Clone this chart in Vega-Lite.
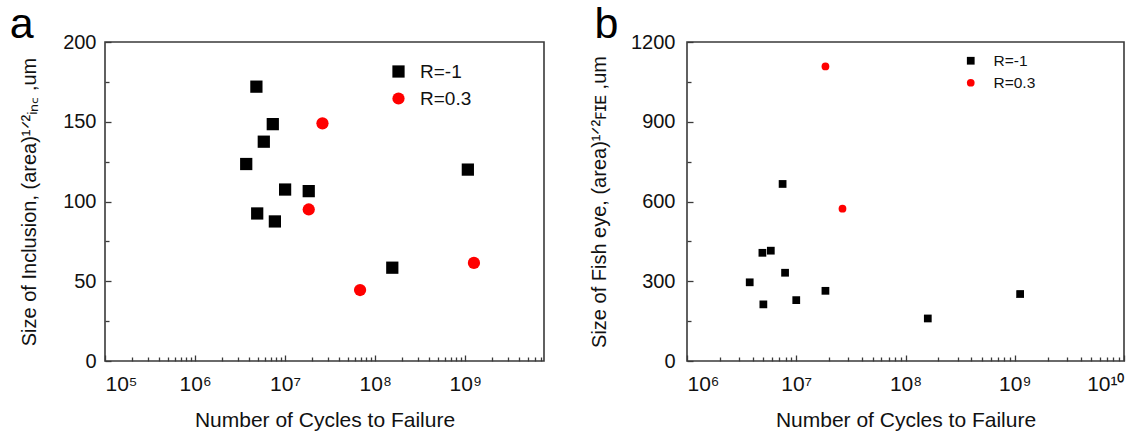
{
  "$schema": "https://vega.github.io/schema/vega-lite/v6.json",
  "background": "white",
  "padding": {"left": 8, "top": 3, "right": 0, "bottom": 0},
  "spacing": 43,
  "config": {
    "font": "Liberation Sans",
    "view": {"stroke": "#3a3a3a", "strokeWidth": 1.6},
    "axis": {
      "grid": false,
      "domain": false,
      "labelFont": "Liberation Sans",
      "labelFontSize": 20,
      "labelColor": "#111111",
      "titleFont": "Liberation Sans",
      "titleFontSize": 20,
      "titleFontWeight": "normal",
      "titleColor": "#111111",
      "tickColor": "#3a3a3a",
      "tickWidth": 1.3
    },
    "legend": {"labelFont": "Liberation Sans", "labelColor": "#111111"},
    "title": {"font": "Liberation Sans", "fontWeight": "normal", "color": "#000000", "anchor": "start", "frame": "bounds", "baseline": "alphabetic"}
  },
  "datasets": {
    "inc": [
      {"cycles": 4800000, "size": 172, "R": "R=-1"},
      {"cycles": 7300000, "size": 148.5, "R": "R=-1"},
      {"cycles": 5800000, "size": 137.5, "R": "R=-1"},
      {"cycles": 3700000, "size": 123.5, "R": "R=-1"},
      {"cycles": 10000000, "size": 107.5, "R": "R=-1"},
      {"cycles": 18300000, "size": 106.5, "R": "R=-1"},
      {"cycles": 4900000, "size": 92.5, "R": "R=-1"},
      {"cycles": 7700000, "size": 87.5, "R": "R=-1"},
      {"cycles": 155000000, "size": 58.5, "R": "R=-1"},
      {"cycles": 1070000000, "size": 120, "R": "R=-1"},
      {"cycles": 26000000, "size": 149, "R": "R=0.3"},
      {"cycles": 18300000, "size": 95, "R": "R=0.3"},
      {"cycles": 68000000, "size": 44.5, "R": "R=0.3"},
      {"cycles": 1250000000, "size": 61.5, "R": "R=0.3"}
    ],
    "fish": [
      {"cycles": 7500000, "size": 666, "R": "R=-1"},
      {"cycles": 5850000, "size": 415, "R": "R=-1"},
      {"cycles": 4900000, "size": 407, "R": "R=-1"},
      {"cycles": 7900000, "size": 332, "R": "R=-1"},
      {"cycles": 3750000, "size": 296, "R": "R=-1"},
      {"cycles": 5000000, "size": 213, "R": "R=-1"},
      {"cycles": 10000000, "size": 229, "R": "R=-1"},
      {"cycles": 18500000, "size": 264, "R": "R=-1"},
      {"cycles": 160000000, "size": 160, "R": "R=-1"},
      {"cycles": 1120000000, "size": 252, "R": "R=-1"},
      {"cycles": 18500000, "size": 1108, "R": "R=0.3"},
      {"cycles": 26500000, "size": 573, "R": "R=0.3"}
    ]
  },
  "hconcat": [
    {
      "width": 439,
      "height": 319,
      "title": {"text": "a", "fontSize": 43, "offset": -15, "dx": -10},
      "data": {"name": "inc"},
      "layer": [
        {
          "mark": {"type": "point", "filled": true, "opacity": 1, "size": 150},
          "encoding": {
            "x": {
              "field": "cycles", "type": "quantitative",
              "scale": {"type": "log", "domain": [100000, 7500000000], "nice": false},
              "axis": {
                "orient": "bottom",
                "values": [100000, 1000000, 10000000, 100000000, 1000000000],
                "offset": -6,
                "tickSize": 6,
                "labelPadding": 12,
                "labelFontSize": 21,
                "labelExpr": "'10' + ['⁰','¹','²','³','⁴','⁵','⁶','⁷','⁸','⁹','¹⁰'][round(log(datum.value)/LN10)]",
                "title": "Number of Cycles to Failure",
                "titleFontSize": 21,
                "titlePadding": 15
              }
            },
            "y": {
              "field": "size", "type": "quantitative",
              "scale": {"domain": [0, 200], "nice": false},
              "axis": {
                "orient": "left",
                "values": [0, 50, 100, 150, 200],
                "offset": -6,
                "tickSize": 6,
                "labelPadding": 9,
                "format": "d",
                "title": "Size of Inclusion, (area)¹ᐟ²ᵢₙ꜀ ,um",
                "titlePadding": 23
              }
            },
            "color": {
              "field": "R", "type": "nominal",
              "scale": {"domain": ["R=-1", "R=0.3"], "range": ["#000000", "#ff0000"]},
              "legend": {"title": null, "orient": "none", "legendX": 284, "legendY": 20, "labelFontSize": 19, "symbolSize": 150, "rowPadding": 7, "labelOffset": 12}
            },
            "shape": {
              "field": "R", "type": "nominal",
              "scale": {"domain": ["R=-1", "R=0.3"], "range": ["square", "circle"]},
              "legend": {"title": null, "orient": "none", "legendX": 284, "legendY": 20, "labelFontSize": 19, "symbolSize": 150, "rowPadding": 7, "labelOffset": 12}
            }
          }
        },
        {
          "mark": {"type": "point", "opacity": 0},
          "encoding": {
            "x": {
              "field": "cycles", "type": "quantitative",
              "axis": {
                "orient": "bottom",
                "values": [200000, 300000, 400000, 500000, 600000, 700000, 800000, 900000, 2000000, 3000000, 4000000, 5000000, 6000000, 7000000, 8000000, 9000000, 20000000, 30000000, 40000000, 50000000, 60000000, 70000000, 80000000, 90000000, 200000000, 300000000, 400000000, 500000000, 600000000, 700000000, 800000000, 900000000, 2000000000, 3000000000, 4000000000, 5000000000, 6000000000, 7000000000],
                "offset": -4,
                "tickSize": 4,
                "labels": false,
                "title": null
              }
            },
            "y": {
              "field": "size", "type": "quantitative",
              "axis": {"orient": "left", "values": [25, 75, 125, 175], "offset": -4, "tickSize": 4, "labels": false, "title": null}
            }
          }
        }
      ],
      "resolve": {"axis": {"x": "independent", "y": "independent"}}
    },
    {
      "width": 437,
      "height": 319,
      "title": {"text": "b", "fontSize": 43, "offset": -15, "dx": 5},
      "data": {"name": "fish"},
      "layer": [
        {
          "mark": {"type": "point", "filled": true, "opacity": 1, "size": 60},
          "encoding": {
            "x": {
              "field": "cycles", "type": "quantitative",
              "scale": {"type": "log", "domain": [1000000, 10000000000], "nice": false},
              "axis": {
                "orient": "bottom",
                "values": [1000000, 10000000, 100000000, 1000000000, 10000000000],
                "offset": -6,
                "tickSize": 6,
                "labelPadding": 12,
                "labelFontSize": 21,
                "labelExpr": "'10' + ['⁰','¹','²','³','⁴','⁵','⁶','⁷','⁸','⁹','¹⁰'][round(log(datum.value)/LN10)]",
                "title": "Number of Cycles to Failure",
                "titleFontSize": 21,
                "titlePadding": 15
              }
            },
            "y": {
              "field": "size", "type": "quantitative",
              "scale": {"domain": [0, 1200], "nice": false},
              "axis": {
                "orient": "left",
                "values": [0, 300, 600, 900, 1200],
                "offset": -6,
                "tickSize": 6,
                "labelPadding": 12,
                "format": "d",
                "title": "Size of Fish eye, (area)¹ᐟ²ꜰɪᴇ ,um",
                "titlePadding": 21
              }
            },
            "color": {
              "field": "R", "type": "nominal",
              "scale": {"domain": ["R=-1", "R=0.3"], "range": ["#000000", "#ff0000"]},
              "legend": {"title": null, "orient": "none", "legendX": 276, "legendY": 11, "labelFontSize": 15.5, "symbolSize": 60, "rowPadding": 5, "labelOffset": 15}
            },
            "shape": {
              "field": "R", "type": "nominal",
              "scale": {"domain": ["R=-1", "R=0.3"], "range": ["square", "circle"]},
              "legend": {"title": null, "orient": "none", "legendX": 276, "legendY": 11, "labelFontSize": 15.5, "symbolSize": 60, "rowPadding": 5, "labelOffset": 15}
            }
          }
        },
        {
          "mark": {"type": "point", "opacity": 0},
          "encoding": {
            "x": {
              "field": "cycles", "type": "quantitative",
              "axis": {
                "orient": "bottom",
                "values": [2000000, 3000000, 4000000, 5000000, 6000000, 7000000, 8000000, 9000000, 20000000, 30000000, 40000000, 50000000, 60000000, 70000000, 80000000, 90000000, 200000000, 300000000, 400000000, 500000000, 600000000, 700000000, 800000000, 900000000, 2000000000, 3000000000, 4000000000, 5000000000, 6000000000, 7000000000, 8000000000, 9000000000],
                "offset": -4,
                "tickSize": 4,
                "labels": false,
                "title": null
              }
            },
            "y": {
              "field": "size", "type": "quantitative",
              "axis": {"orient": "left", "values": [150, 450, 750, 1050], "offset": -4, "tickSize": 4, "labels": false, "title": null}
            }
          }
        }
      ],
      "resolve": {"axis": {"x": "independent", "y": "independent"}}
    }
  ],
  "resolve": {
    "scale": {"x": "independent", "y": "independent", "color": "independent", "shape": "independent"},
    "legend": {"color": "independent", "shape": "independent"}
  }
}
